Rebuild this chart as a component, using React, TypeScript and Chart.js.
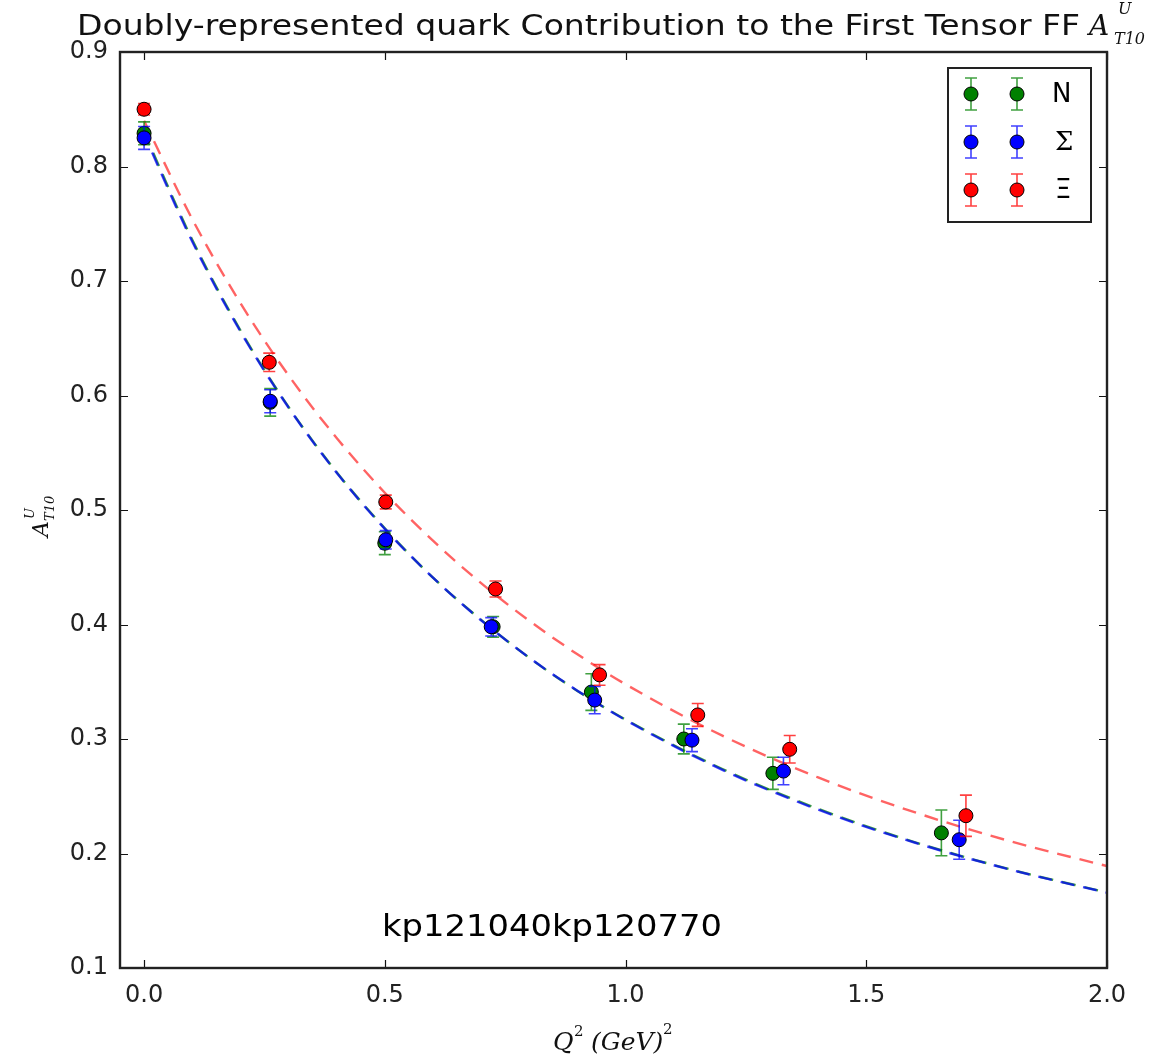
import React, { useEffect, useRef } from "react";
import { Chart, registerables } from "chart.js";
Chart.register(...registerables);

const W = 1157;
const H = 1061;

// ---- data ----
const nQ2 = [0, 0.262, 0.5, 0.725, 0.929, 1.121, 1.306, 1.656];
const nVal = [0.829, 0.594, 0.471, 0.398, 0.341, 0.3, 0.27, 0.218];
const nErr = [0.01, 0.012, 0.01, 0.009, 0.016, 0.013, 0.014, 0.02];

const sQ2 = [0, 0.262, 0.502, 0.721, 0.936, 1.138, 1.328, 1.693];
const sVal = [0.825, 0.595, 0.474, 0.398, 0.334, 0.299, 0.272, 0.212];
const sErr = [0.01, 0.01, 0.008, 0.008, 0.012, 0.01, 0.012, 0.017];

const xiQ2 = [0, 0.26, 0.502, 0.73, 0.946, 1.15, 1.341, 1.707];
const xiVal = [0.85, 0.629, 0.507, 0.431, 0.356, 0.321, 0.291, 0.233];
const xiErr = [0.005, 0.008, 0.006, 0.007, 0.009, 0.01, 0.012, 0.018];

const fitQ2 = [0, 0.1, 0.2, 0.3, 0.4, 0.5, 0.6, 0.7, 0.8, 0.9, 1.0, 1.2, 1.4, 1.6, 1.8, 2.0];
const fitN = [0.83, 0.736, 0.657, 0.59, 0.533, 0.484, 0.441, 0.404, 0.371, 0.342, 0.317, 0.274, 0.239, 0.21, 0.186, 0.166];
const fitS = [0.828, 0.7345, 0.656, 0.5895, 0.5325, 0.4835, 0.4409, 0.4037, 0.371, 0.3422, 0.3166, 0.2733, 0.2383, 0.2096, 0.1858, 0.1658];
const fitXi = [0.84, 0.7541, 0.6808, 0.6176, 0.5629, 0.5151, 0.4732, 0.4361, 0.4033, 0.374, 0.3478, 0.3031, 0.2664, 0.2361, 0.2106, 0.189];

const xTicks = [0, 0.5, 1.0, 1.5, 2.0];
const yTicks = [0.1, 0.2, 0.3, 0.4, 0.5, 0.6, 0.7, 0.8, 0.9];

const seriesNames = ["N", "\u03A3", "\u039E"];
const seriesColors = ["#008000", "#0000ff", "#ff0000"];

const titleText = "Doubly-represented quark Contribution to the First Tensor FF";
const annotationText = "kp121040kp120770";

const zip = (xs: number[], ys: number[]) => xs.map((x, i) => ({ x, y: ys[i] }));

function fitText(ctx: CanvasRenderingContext2D, text: string, x: number, y: number, width: number) {
  const w = ctx.measureText(text).width;
  ctx.save();
  ctx.translate(x, y);
  ctx.scale(width / w, 1);
  ctx.fillText(text, 0, 0);
  ctx.restore();
}

const errorBarPlugin = {
  id: "errbars",
  beforeDatasetDraw(chart: any, args: any) {
    const ds = chart.data.datasets[args.index];
    if (!ds.errors) return;
    const { ctx } = chart;
    const x = chart.scales.x;
    const y = chart.scales.y;
    ctx.save();
    ctx.strokeStyle = ds.errColor;
    ctx.lineWidth = 1.6;
    ds.data.forEach((p: any, i: number) => {
      const e = ds.errors[i];
      const px = x.getPixelForValue(p.x);
      const top = y.getPixelForValue(p.y + e);
      const bot = y.getPixelForValue(p.y - e);
      ctx.beginPath();
      ctx.moveTo(px, top);
      ctx.lineTo(px, bot);
      ctx.moveTo(px - 6, top);
      ctx.lineTo(px + 6, top);
      ctx.moveTo(px - 6, bot);
      ctx.lineTo(px + 6, bot);
      ctx.stroke();
    });
    ctx.restore();
  },
};

const framePlugin = {
  id: "frame",
  afterDatasetsDraw(chart: any) {
    const { ctx, chartArea: a } = chart;
    const x = chart.scales.x;
    const y = chart.scales.y;
    ctx.save();
    ctx.strokeStyle = "#111";
    ctx.lineWidth = 1.2;
    xTicks.forEach((v) => {
      const px = Math.round(x.getPixelForValue(v)) + 0.5;
      ctx.beginPath();
      ctx.moveTo(px, a.bottom);
      ctx.lineTo(px, a.bottom - 8);
      ctx.moveTo(px, a.top);
      ctx.lineTo(px, a.top + 8);
      ctx.stroke();
    });
    yTicks.forEach((v) => {
      const py = Math.round(y.getPixelForValue(v)) + 0.5;
      ctx.beginPath();
      ctx.moveTo(a.left, py);
      ctx.lineTo(a.left + 8, py);
      ctx.moveTo(a.right, py);
      ctx.lineTo(a.right - 8, py);
      ctx.stroke();
    });
    ctx.lineWidth = 2.4;
    ctx.strokeStyle = "#222";
    ctx.strokeRect(a.left, a.top, a.right - a.left, a.bottom - a.top);
    ctx.restore();
  },
};

const textPlugin = {
  id: "texts",
  afterDraw(chart: any) {
    const { ctx } = chart;
    ctx.save();
    ctx.fillStyle = "#111";
    // title
    ctx.font = "29px 'DejaVu Sans'";
    ctx.textBaseline = "alphabetic";
    ctx.textAlign = "left";
    fitText(ctx, titleText, 77, 35, 1003);
    ctx.font = "italic 28px 'DejaVu Serif'";
    ctx.fillText("A", 1089, 35);
    ctx.font = "italic 16px 'DejaVu Serif'";
    ctx.fillText("U", 1118, 14);
    ctx.fillText("T10", 1114, 44);

    // y label
    ctx.save();
    ctx.translate(48, 537);
    ctx.rotate(-Math.PI / 2);
    ctx.font = "italic 22px 'DejaVu Serif'";
    ctx.fillText("A", 0, 0);
    ctx.font = "italic 13px 'DejaVu Serif'";
    ctx.fillText("U", 18, -14);
    ctx.fillText("T10", 16, 6);
    ctx.restore();

    // x label
    ctx.font = "italic 25px 'DejaVu Serif'";
    ctx.fillText("Q", 553, 1050);
    ctx.font = "15px 'DejaVu Serif'";
    ctx.fillText("2", 574, 1036);
    ctx.font = "italic 25px 'DejaVu Serif'";
    ctx.fillText("(GeV)", 591, 1050);
    ctx.font = "15px 'DejaVu Serif'";
    ctx.fillText("2", 663, 1034);

    // annotation
    ctx.fillStyle = "#000";
    ctx.font = "31px 'DejaVu Sans'";
    ctx.textBaseline = "middle";
    fitText(ctx, annotationText, 382, 928, 340);

    // legend
    const lx = 948, ly = 68, lw = 143, lh = 154;
    ctx.fillStyle = "#fff";
    ctx.fillRect(lx, ly, lw, lh);
    ctx.strokeStyle = "#222";
    ctx.lineWidth = 2;
    ctx.strokeRect(lx, ly, lw, lh);
    const rows = [94, 142, 190];
    seriesNames.forEach((name, i) => {
      const cy = rows[i];
      [971, 1017].forEach((mx) => {
        ctx.strokeStyle = seriesColors[i];
        ctx.globalAlpha = 0.75;
        ctx.lineWidth = 1.6;
        ctx.beginPath();
        ctx.moveTo(mx, cy - 16);
        ctx.lineTo(mx, cy + 16);
        ctx.moveTo(mx - 6, cy - 16);
        ctx.lineTo(mx + 6, cy - 16);
        ctx.moveTo(mx - 6, cy + 16);
        ctx.lineTo(mx + 6, cy + 16);
        ctx.stroke();
        ctx.globalAlpha = 1;
        ctx.beginPath();
        ctx.arc(mx, cy, 7, 0, Math.PI * 2);
        ctx.fillStyle = seriesColors[i];
        ctx.fill();
        ctx.strokeStyle = "#000";
        ctx.lineWidth = 1;
        ctx.stroke();
      });
      ctx.fillStyle = "#000";
      ctx.textBaseline = "middle";
      ctx.textAlign = "left";
      ctx.font = i === 1 ? "26px 'DejaVu Serif'" : "26px 'DejaVu Sans'";
      ctx.fillText(name, i === 0 ? 1052 : 1055, cy + 1);
    });
    ctx.restore();
  },
};

export default function App() {
  const ref = useRef<HTMLCanvasElement | null>(null);
  useEffect(() => {
    if (!ref.current) return;
    const pointDs = (label: string, xs: number[], ys: number[], errs: number[], color: string, errColor: string) => ({
      type: "scatter" as const,
      label,
      data: zip(xs, ys),
      errors: errs,
      errColor,
      showLine: false,
      pointRadius: 7,
      pointHoverRadius: 7,
      pointBackgroundColor: color,
      pointBorderColor: "#000",
      pointBorderWidth: 1,
    });
    const lineDs = (label: string, ys: number[], color: string, offset: number) => ({
      type: "line" as const,
      label,
      data: zip(fitQ2, ys),
      showLine: true,
      borderColor: color,
      borderWidth: 2.4,
      borderDash: [14, 9],
      borderDashOffset: offset,
      pointRadius: 0,
      cubicInterpolationMode: "monotone" as const,
      fill: false,
    });
    const chart = new Chart(ref.current, {
      type: "scatter",
      data: {
        datasets: [
          pointDs("\u039E", xiQ2, xiVal, xiErr, "#ff0000", "rgba(255,0,0,0.75)"),
          pointDs("\u03A3", sQ2, sVal, sErr, "#0000ff", "rgba(0,0,255,0.75)"),
          pointDs("N", nQ2, nVal, nErr, "#008000", "rgba(0,128,0,0.75)"),
          lineDs("fit \u039E", fitXi, "rgba(255,60,60,0.8)", 0),
          lineDs("fit \u03A3", fitS, "rgba(0,0,255,0.75)", 3),
          lineDs("fit N", fitN, "rgba(0,128,0,0.75)", 0),
        ] as any,
      },
      options: {
        responsive: false,
        animation: false,
        events: [],
        layout: { padding: { top: 52, right: 50, left: 0, bottom: 0 } },
        plugins: {
          legend: { display: false },
          tooltip: { enabled: false },
          title: { display: false },
        },
        scales: {
          x: {
            type: "linear",
            min: -0.05,
            max: 2.0,
            grid: { display: false, drawTicks: false },
            border: { display: false },
            afterBuildTicks: (s: any) => {
              s.ticks = xTicks.map((v) => ({ value: v }));
            },
            afterFit: (s: any) => {
              s.height = 93;
            },
            ticks: {
              padding: 13,
              color: "#222",
              font: { family: "'DejaVu Sans'", size: 24 },
              callback: (v: any) => Number(v).toFixed(1),
            },
          },
          y: {
            type: "linear",
            min: 0.1,
            max: 0.9,
            grid: { display: false, drawTicks: false },
            border: { display: false },
            afterBuildTicks: (s: any) => {
              s.ticks = yTicks.map((v) => ({ value: v }));
            },
            afterFit: (s: any) => {
              s.width = 120;
            },
            ticks: {
              padding: 12,
              color: "#222",
              font: { family: "'DejaVu Sans'", size: 24 },
              callback: (v: any) => Number(v).toFixed(1),
            },
          },
        },
      },
      plugins: [errorBarPlugin, framePlugin, textPlugin],
    });
    return () => chart.destroy();
  }, []);
  return (
    <div style={{ position: "absolute", left: 0, top: 0, width: W, height: H, background: "#fff" }}>
      <canvas ref={ref} width={W} height={H} style={{ display: "block" }} />
    </div>
  );
}
